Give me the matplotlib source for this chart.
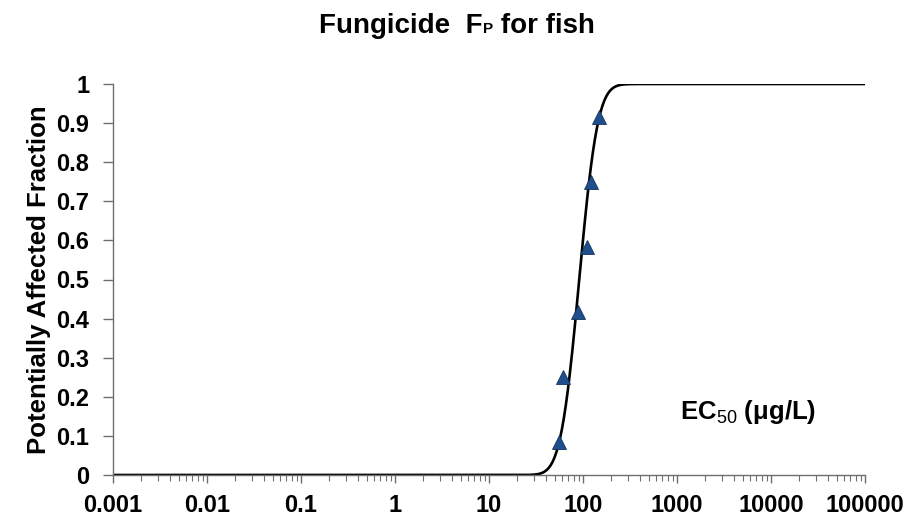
import math
import numpy as np
import matplotlib
matplotlib.use("Agg")
import matplotlib.pyplot as plt
from matplotlib.ticker import FixedLocator, LogLocator, NullFormatter

# ── Data ──────────────────────────────────────────────────────────────────────

# species EC50 values (ug/L) and their plotting positions
ec50_values = [56, 62, 89, 109, 121, 149]
affected_fraction = [1 / 12, 3 / 12, 5 / 12, 7 / 12, 9 / 12, 11 / 12]

# fitted log-normal SSD (log10 scale)
fit_log10_mean = 1.96
fit_log10_sd = 0.155

x_ticks = [0.001, 0.01, 0.1, 1, 10, 100, 1000, 10000, 100000]
x_tick_labels = ["0.001", "0.01", "0.1", "1", "10", "100", "1000", "10000", "100000"]
y_ticks = [0, 0.1, 0.2, 0.3, 0.4, 0.5, 0.6, 0.7, 0.8, 0.9, 1]
y_tick_labels = ["0", "0.1", "0.2", "0.3", "0.4", "0.5", "0.6", "0.7", "0.8", "0.9", "1"]

# ── Plot ──────────────────────────────────────────────────────────────────────

plt.rcParams["font.family"] = ["Liberation Sans", "DejaVu Sans"]
plt.rcParams["mathtext.fontset"] = "custom"
plt.rcParams["mathtext.rm"] = "Liberation Sans"
plt.rcParams["mathtext.bf"] = "Liberation Sans:bold"

axis_grey = "#6e6e6e"

fig = plt.figure(figsize=(9.1, 5.19), dpi=100)
ax = fig.add_axes([113 / 910, 1 - 475 / 519, 752 / 910, 391 / 519])

# fitted curve
log_x = np.linspace(-3, 5, 800)
curve_y = [0.5 * (1 + math.erf((v - fit_log10_mean) / (fit_log10_sd * math.sqrt(2))))
           for v in log_x]
ax.plot(10 ** log_x, curve_y, color="black", linewidth=1.9, zorder=2)

# observed species
ax.plot(ec50_values, affected_fraction, linestyle="none", marker="^",
        markersize=9.5, markerfacecolor="#1F4E8C", markeredgecolor="#14335c",
        markeredgewidth=0.6, zorder=3)

ax.set_xscale("log")
ax.set_xlim(0.001, 100000)
ax.set_ylim(0, 1)

ax.xaxis.set_major_locator(FixedLocator(x_ticks))
ax.set_xticklabels(x_tick_labels)
ax.xaxis.set_minor_locator(LogLocator(base=10, subs=np.arange(2, 10), numticks=20))
ax.xaxis.set_minor_formatter(NullFormatter())
ax.set_yticks(y_ticks)
ax.set_yticklabels(y_tick_labels)

for side in ["top", "right"]:
    ax.spines[side].set_visible(False)
for side in ["left", "bottom"]:
    ax.spines[side].set_color(axis_grey)
    ax.spines[side].set_linewidth(1.0)

ax.tick_params(axis="x", which="major", direction="out", length=6,
               width=1.0, color=axis_grey, labelsize=17, pad=8)
ax.tick_params(axis="y", which="major", direction="out", length=7,
               width=1.0, color=axis_grey, labelsize=17, pad=10)
ax.tick_params(axis="x", which="minor", direction="out", length=4,
               width=0.8, color=axis_grey)
for lab in ax.get_xticklabels() + ax.get_yticklabels():
    lab.set_fontweight("bold")

ax.set_ylabel("Potentially Affected Fraction", fontsize=18.5, fontweight="bold",
              labelpad=4)

ax.text(0.754, 0.161, r"EC$_{\mathrm{50}}$ (μg/L)", transform=ax.transAxes,
        fontsize=18.5, fontweight="bold", ha="left", va="center")

# title with small "P" sitting on the baseline
renderer = fig.canvas.get_renderer()
title_y = 1 - 33 / 519
t1 = fig.text(0.0, title_y, "Fungicide  F", fontsize=20, fontweight="bold",
              ha="left", va="baseline")
t2 = fig.text(0.0, title_y, "P", fontsize=11, fontweight="bold",
              ha="left", va="baseline")
t3 = fig.text(0.0, title_y, " for fish", fontsize=20, fontweight="bold",
              ha="left", va="baseline")
w1 = t1.get_window_extent(renderer).width
w2 = t2.get_window_extent(renderer).width
w3 = t3.get_window_extent(renderer).width
total = w1 + w2 + w3
start = 457 - total / 2
t1.set_x(start / 910)
t2.set_x((start + w1) / 910)
t3.set_x((start + w1 + w2) / 910)

fig.savefig("out.png", dpi=100)
